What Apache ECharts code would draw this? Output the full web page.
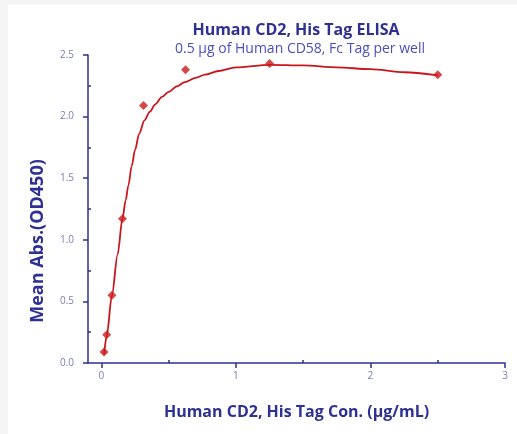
<!DOCTYPE html>
<html>
<head>
<meta charset="utf-8">
<script src="https://cdn.jsdelivr.net/npm/echarts@6/dist/echarts.min.js"></script>
<style>
  html, body { margin: 0; padding: 0; background: #ffffff; }
  #chart { width: 517px; height: 434px; }
</style>
</head>
<body>
<div id="chart"></div>
<script>
// measured points (ug/mL vs OD450)
const concentrations = [0.0195, 0.039, 0.078, 0.156, 0.3125, 0.625, 1.25, 2.5];
const absorbance = [0.09, 0.23, 0.55, 1.17, 2.09, 2.38, 2.43, 2.34];

// fitted curve
const curveX = [0.0195, 0.039, 0.078, 0.12, 0.156, 0.18, 0.2, 0.225, 0.25, 0.28, 0.32, 0.36, 0.4, 0.45, 0.5, 0.56, 0.62, 0.7, 0.77, 0.87, 1.0, 1.25, 1.5, 1.75, 2.0, 2.25, 2.5];
const curveY = [0.07, 0.22, 0.55, 0.88, 1.17, 1.32, 1.44, 1.6, 1.73, 1.86, 1.97, 2.04, 2.1, 2.16, 2.2, 2.245, 2.28, 2.315, 2.34, 2.37, 2.4, 2.42, 2.415, 2.4, 2.385, 2.36, 2.335];

const xLabels = [0, 1, 2, 3];
const xMinorTicks = [0.5, 1.5, 2.5];
const yTicks = [0, 0.5, 1, 1.5, 2, 2.5];
const yMinorTicks = [0.25, 0.75, 1.25, 1.75, 2.25];

const axisColor = '#2e3192';
const labelColor = '#7b7eb3';
const font = '"Open Sans", sans-serif';

const chart = echarts.init(document.getElementById('chart'));

const baseX = {
  type: 'value',
  min: -0.1,
  max: 3,
  position: 'bottom',
  splitLine: { show: false },
};
const baseY = {
  type: 'value',
  min: 0,
  max: 2.5,
  position: 'left',
  splitLine: { show: false },
};

// extra axes that only carry tick marks
function tickAxis(base, values, length, offset) {
  return {
    ...base,
    offset,
    axisLine: { show: false, onZero: false },
    axisTick: { show: true, inside: true, customValues: values, length, lineStyle: { color: axisColor, width: 1.5 } },
    axisLabel: { show: false },
  };
}

chart.setOption({
  backgroundColor: '#ffffff',
  animation: false,
  graphic: [
    // light grey frame along the left and top edges
    { type: 'rect', left: 0, top: 0, shape: { width: 8, height: 434 }, style: { fill: '#f5f5f5' }, silent: true },
    { type: 'rect', left: 0, top: 0, shape: { width: 517, height: 5 }, style: { fill: '#f5f5f5' }, silent: true },
  ],
  title: [
    {
      text: 'Human CD2, His Tag ELISA',
      left: 291,
      top: 17,
      textAlign: 'center',
      textStyle: { color: axisColor, fontSize: 16, fontWeight: 'bold', fontFamily: font },
    },
    {
      text: '0.5 μg of Human CD58, Fc Tag per well',
      left: 295,
      top: 37,
      textAlign: 'center',
      textStyle: { color: '#4a4fc0', fontSize: 14, fontWeight: 'normal', fontFamily: font },
    },
  ],
  grid: { left: 88, right: 12, top: 55, bottom: 71 },
  xAxis: [
    {
      ...baseX,
      name: 'Human CD2, His Tag Con. (μg/mL)',
      nameLocation: 'middle',
      nameGap: 41,
      nameTextStyle: { color: axisColor, fontSize: 16, fontWeight: 'bold', fontFamily: font },
      axisLine: { show: true, onZero: false, lineStyle: { color: axisColor, width: 1.5 } },
      axisTick: { show: true, customValues: xLabels, length: 5, lineStyle: { color: axisColor, width: 1.5 } },
      axisLabel: {
        customValues: xLabels,
        color: labelColor,
        fontSize: 10,
        fontFamily: font,
        margin: 8,
        formatter: (v) => String(v),
      },
    },
    tickAxis(baseX, xLabels, 5, 5),
    tickAxis(baseX, xMinorTicks, 3, 0),
  ],
  yAxis: [
    {
      ...baseY,
      interval: 0.5,
      name: 'Mean Abs.(OD450)',
      nameLocation: 'middle',
      nameGap: 41,
      nameTextStyle: { color: axisColor, fontSize: 18, fontWeight: 'bold', fontFamily: font, padding: [0, 64, 0, 0] },
      axisLine: { show: true, onZero: false, lineStyle: { color: axisColor, width: 1.5 } },
      axisTick: { show: true, length: 5, lineStyle: { color: axisColor, width: 1.5 } },
      axisLabel: {
        color: labelColor,
        fontSize: 10,
        fontFamily: font,
        margin: 14,
        formatter: (v) => v.toFixed(1),
      },
    },
    tickAxis(baseY, yTicks, 5, 5),
    tickAxis(baseY, yMinorTicks, 3, 0),
  ],
  series: [
    {
      name: 'fit',
      type: 'line',
      data: curveX.map((x, i) => [x, curveY[i]]),
      smooth: 0.3,
      smoothMonotone: 'x',
      showSymbol: false,
      lineStyle: { color: '#c8161d', width: 1.8 },
      z: 2,
    },
    {
      name: 'measured',
      type: 'scatter',
      data: concentrations.map((x, i) => [x, absorbance[i]]),
      symbol: 'diamond',
      symbolSize: 9,
      itemStyle: { color: '#cc1a1a' },
      z: 3,
    },
  ],
});
</script>
</body>
</html>
